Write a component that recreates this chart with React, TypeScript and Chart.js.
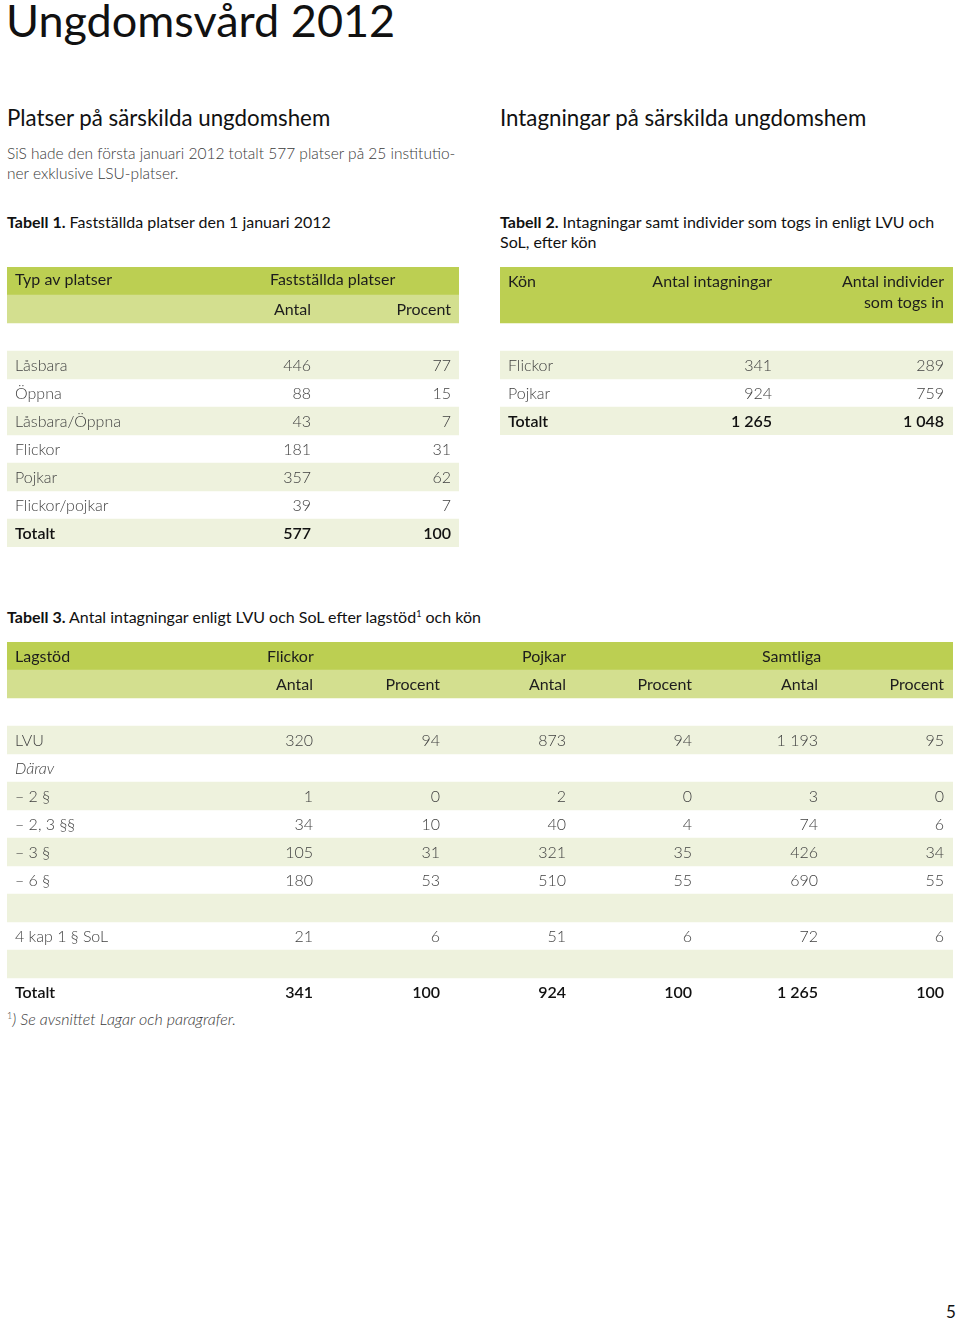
import React, { useEffect, useRef } from "react";
import { Chart, registerables } from "chart.js";

Chart.register(...registerables);

// ---------- DATA ----------
const t1Types = ["Låsbara", "Öppna", "Låsbara/Öppna", "Flickor", "Pojkar", "Flickor/pojkar", "Totalt"];
const t1Antal = [446, 88, 43, 181, 357, 39, 577];
const t1Procent = [77, 15, 7, 31, 62, 7, 100];

const t2Kon = ["Flickor", "Pojkar", "Totalt"];
const t2Intagningar = [341, 924, 1265];
const t2Individer = [289, 759, 1048];

const t3Lagstod = ["LVU", "Därav", "– 2 §", "– 2, 3 §§", "– 3 §", "– 6 §", "", "4 kap 1 § SoL", "", "Totalt"];
const t3FlickorAntal = [320, null, 1, 34, 105, 180, null, 21, null, 341];
const t3FlickorProcent = [94, null, 0, 10, 31, 53, null, 6, null, 100];
const t3PojkarAntal = [873, null, 2, 40, 321, 510, null, 51, null, 924];
const t3PojkarProcent = [94, null, 0, 4, 35, 55, null, 6, null, 100];
const t3SamtligaAntal = [1193, null, 3, 74, 426, 690, null, 72, null, 1265];
const t3SamtligaProcent = [95, null, 0, 6, 34, 55, null, 6, null, 100];

// ---------- STYLE ----------
const FONT = "Lato, 'Open Sans', sans-serif";
const C_HEAD = "#bccf52";
const C_SUB = "#d3df8f";
const C_STRIPE = "#eef2dd";
const C_NONE = "rgba(255,255,255,0)";
const TXT_HEAD = "#1d1d1d";
const TXT_BODY = "#3f3f3f";
const TXT_BOLD = "#111111";
const F_HEAD = `400 16px ${FONT}`;
const F_BODY = `300 16px ${FONT}`;
const F_BOLD = `600 16px ${FONT}`;
const F_ITAL = `italic 300 16px ${FONT}`;

const fmt = (n: number | null) => {
  if (n === null || n === undefined) return "";
  if (n >= 1000) return `${Math.floor(n / 1000)} ${String(n % 1000).padStart(3, "0")}`;
  return String(n);
};

type Cell = { text: string; x: number; align: CanvasTextAlign; font: string; color: string; dy?: number };
type Row = { bg: string; cells: Cell[] };

const ROW_H = 28;

function TableChart({ left, top, width, rows }: { left: number; top: number; width: number; rows: Row[] }) {
  const ref = useRef<HTMLCanvasElement | null>(null);
  const height = rows.length * ROW_H;
  useEffect(() => {
    if (!ref.current) return;
    const textPlugin = {
      id: "cellText",
      afterDatasetsDraw(chart: any) {
        const ctx = chart.ctx;
        const xs = chart.scales.x;
        const ys = chart.scales.y;
        ctx.save();
        rows.forEach((r, i) => {
          const y = ys.getPixelForValue(i);
          r.cells.forEach((c) => {
            if (!c.text) return;
            ctx.font = c.font;
            ctx.fillStyle = c.color;
            ctx.textAlign = c.align;
            ctx.textBaseline = "alphabetic";
            ctx.fillText(c.text, xs.getPixelForValue(c.x), y + (c.dy ?? 6));
          });
        });
        ctx.restore();
      },
    };
    const chart = new Chart(ref.current, {
      type: "bar",
      data: {
        labels: rows.map((_, i) => String(i)),
        datasets: [
          {
            data: rows.map(() => [0, width]) as any,
            backgroundColor: rows.map((r) => r.bg),
            borderWidth: 0,
            barPercentage: 1,
            categoryPercentage: 1,
          },
        ],
      },
      options: {
        indexAxis: "y",
        animation: false,
        responsive: false,
        devicePixelRatio: 1,
        layout: { padding: 0 },
        events: [],
        plugins: { legend: { display: false }, tooltip: { enabled: false }, title: { display: false } },
        scales: {
          x: { type: "linear", min: 0, max: width, display: false },
          y: { type: "category", display: false, offset: true },
        },
      },
      plugins: [textPlugin],
    });
    return () => chart.destroy();
  }, []);
  return (
    <canvas
      ref={ref}
      width={width}
      height={height}
      style={{ position: "absolute", left, top, width, height, display: "block" }}
    />
  );
}

// ---------- TABLE ROW BUILDERS ----------
const T1_COLS = { label: 8, group: 263, antal: 304, procent: 444 };
const t1Rows: Row[] = [
  {
    bg: C_HEAD,
    cells: [
      { text: "Typ av platser", x: T1_COLS.label, align: "left", font: F_HEAD, color: TXT_HEAD, dy: 4 },
      { text: "Fastställda platser", x: T1_COLS.group, align: "left", font: F_HEAD, color: TXT_HEAD, dy: 4 },
    ],
  },
  {
    bg: C_SUB,
    cells: [
      { text: "Antal", x: T1_COLS.antal, align: "right", font: F_HEAD, color: TXT_HEAD, dy: 6 },
      { text: "Procent", x: T1_COLS.procent, align: "right", font: F_HEAD, color: TXT_HEAD, dy: 6 },
    ],
  },
  { bg: C_NONE, cells: [] },
  ...t1Types.map((t, i) => {
    const last = i === t1Types.length - 1;
    const f = last ? F_BOLD : F_BODY;
    const c = last ? TXT_BOLD : TXT_BODY;
    return {
      bg: i % 2 === 0 ? C_STRIPE : C_NONE,
      cells: [
        { text: t, x: T1_COLS.label, align: "left" as CanvasTextAlign, font: f, color: c },
        { text: fmt(t1Antal[i]), x: T1_COLS.antal, align: "right" as CanvasTextAlign, font: f, color: c },
        { text: fmt(t1Procent[i]), x: T1_COLS.procent, align: "right" as CanvasTextAlign, font: f, color: c },
      ],
    };
  }),
];

const T2_COLS = { label: 8, intag: 272, indiv: 444 };
const t2Rows: Row[] = [
  {
    bg: C_HEAD,
    cells: [
      { text: "Kön", x: T2_COLS.label, align: "left", font: F_HEAD, color: TXT_HEAD, dy: 6 },
      { text: "Antal intagningar", x: T2_COLS.intag, align: "right", font: F_HEAD, color: TXT_HEAD, dy: 6 },
      { text: "Antal individer", x: T2_COLS.indiv, align: "right", font: F_HEAD, color: TXT_HEAD, dy: 6 },
    ],
  },
  {
    bg: C_HEAD,
    cells: [{ text: "som togs in", x: T2_COLS.indiv, align: "right", font: F_HEAD, color: TXT_HEAD, dy: -1 }],
  },
  { bg: C_NONE, cells: [] },
  ...t2Kon.map((k, i) => {
    const last = i === t2Kon.length - 1;
    const f = last ? F_BOLD : F_BODY;
    const c = last ? TXT_BOLD : TXT_BODY;
    return {
      bg: i % 2 === 0 ? C_STRIPE : C_NONE,
      cells: [
        { text: k, x: T2_COLS.label, align: "left" as CanvasTextAlign, font: f, color: c },
        { text: fmt(t2Intagningar[i]), x: T2_COLS.intag, align: "right" as CanvasTextAlign, font: f, color: c },
        { text: fmt(t2Individer[i]), x: T2_COLS.indiv, align: "right" as CanvasTextAlign, font: f, color: c },
      ],
    };
  }),
];

const T3_COLS = { label: 8, g1: 260, g2: 515, g3: 755, fa: 306, fp: 433, pa: 559, pp: 685, sa: 811, sp: 937 };
const t3Series = [
  [t3FlickorAntal, T3_COLS.fa],
  [t3FlickorProcent, T3_COLS.fp],
  [t3PojkarAntal, T3_COLS.pa],
  [t3PojkarProcent, T3_COLS.pp],
  [t3SamtligaAntal, T3_COLS.sa],
  [t3SamtligaProcent, T3_COLS.sp],
] as const;
const t3Rows: Row[] = [
  {
    bg: C_HEAD,
    cells: [
      { text: "Lagstöd", x: T3_COLS.label, align: "left", font: F_HEAD, color: TXT_HEAD, dy: 6 },
      { text: "Flickor", x: T3_COLS.g1, align: "left", font: F_HEAD, color: TXT_HEAD, dy: 6 },
      { text: "Pojkar", x: T3_COLS.g2, align: "left", font: F_HEAD, color: TXT_HEAD, dy: 6 },
      { text: "Samtliga", x: T3_COLS.g3, align: "left", font: F_HEAD, color: TXT_HEAD, dy: 6 },
    ],
  },
  {
    bg: C_SUB,
    cells: [
      { text: "Antal", x: T3_COLS.fa, align: "right", font: F_HEAD, color: TXT_HEAD, dy: 6 },
      { text: "Procent", x: T3_COLS.fp, align: "right", font: F_HEAD, color: TXT_HEAD, dy: 6 },
      { text: "Antal", x: T3_COLS.pa, align: "right", font: F_HEAD, color: TXT_HEAD, dy: 6 },
      { text: "Procent", x: T3_COLS.pp, align: "right", font: F_HEAD, color: TXT_HEAD, dy: 6 },
      { text: "Antal", x: T3_COLS.sa, align: "right", font: F_HEAD, color: TXT_HEAD, dy: 6 },
      { text: "Procent", x: T3_COLS.sp, align: "right", font: F_HEAD, color: TXT_HEAD, dy: 6 },
    ],
  },
  { bg: C_NONE, cells: [] },
  ...t3Lagstod.map((l, i) => {
    const last = i === t3Lagstod.length - 1;
    const f = last ? F_BOLD : l === "Därav" ? F_ITAL : F_BODY;
    const c = last ? TXT_BOLD : TXT_BODY;
    return {
      bg: i % 2 === 0 ? C_STRIPE : C_NONE,
      cells: [
        { text: l, x: T3_COLS.label, align: "left" as CanvasTextAlign, font: f, color: c },
        ...t3Series.map(([arr, x]) => ({
          text: fmt(arr[i] as number | null),
          x: x as number,
          align: "right" as CanvasTextAlign,
          font: last ? F_BOLD : F_BODY,
          color: c,
        })),
      ],
    };
  }),
];

// ---------- PAGE ----------
const abs = (left: number, baseline: number, fs: number): React.CSSProperties => ({
  position: "absolute",
  left,
  top: baseline - 0.887 * fs,
  fontSize: fs,
  lineHeight: 1,
  fontFamily: FONT,
  whiteSpace: "nowrap",
  margin: 0,
});

export default function App() {
  return (
    <div style={{ position: "absolute", left: 0, top: 0, width: 960, height: 1321, background: "#fff", overflow: "hidden" }}>
      <div style={{ ...abs(6, 38, 45), color: "#111", fontWeight: 400 }}>Ungdomsvård 2012</div>

      <div style={{ ...abs(7, 127, 22.3), color: "#111" }}>Platser på särskilda ungdomshem</div>
      <div style={{ ...abs(500, 127, 22.3), color: "#111" }}>Intagningar på särskilda ungdomshem</div>

      <div style={{ ...abs(7, 160, 15.5), color: "#3a3a3a", fontWeight: 300 }}>
        SiS hade den första januari 2012 totalt 577 platser på 25 institutio-
      </div>
      <div style={{ ...abs(7, 180, 15.5), color: "#3a3a3a", fontWeight: 300 }}>ner exklusive LSU-platser.</div>

      <div style={{ ...abs(7, 228, 16), color: "#111" }}>
        <b>Tabell 1.</b> Fastställda platser den 1 januari 2012
      </div>
      <div style={{ ...abs(500, 228, 16), color: "#111" }}>
        <b>Tabell 2.</b> Intagningar samt individer som togs in enligt LVU och
      </div>
      <div style={{ ...abs(500, 248, 16), color: "#111" }}>SoL, efter kön</div>

      <TableChart left={7} top={267} width={452} rows={t1Rows} />
      <TableChart left={500} top={267} width={453} rows={t2Rows} />

      <div style={{ ...abs(7, 623, 16), color: "#111" }}>
        <b>Tabell 3.</b> Antal intagningar enligt LVU och SoL efter lagstöd
        <span style={{ fontSize: 9, verticalAlign: "6px" }}>1</span> och kön
      </div>

      <TableChart left={7} top={642} width={946} rows={t3Rows} />

      <div style={{ ...abs(7, 1025, 16), color: "#3a3a3a", fontStyle: "italic", fontWeight: 300 }}>
        <span style={{ fontSize: 9, verticalAlign: "6px", fontStyle: "normal" }}>1</span>) Se avsnittet Lagar och paragrafer.
      </div>

      <div style={{ ...abs(946, 1318, 17), color: "#111" }}>5</div>
    </div>
  );
}
